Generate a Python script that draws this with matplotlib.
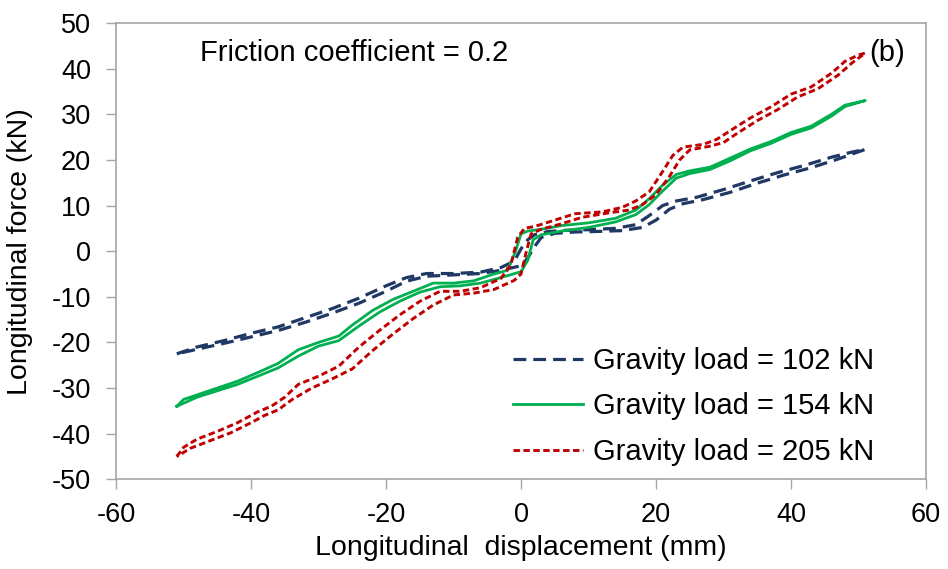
import matplotlib
matplotlib.use('Agg')
import matplotlib.pyplot as plt
import numpy as np

# gravity load 102 kN - two branches of the loop
blue_x_up = [-51, -48, -44, -40, -36, -32, -28, -24, -20, -17, -14, -10, -6, -3, -1, 0, 1, 2, 4, 7, 10, 14, 17, 19, 21, 23, 26, 30, 34, 38, 42, 46, 49, 51]
blue_y_up = [-22.5, -21.0, -19.6, -18.0, -16.6, -14.6, -12.6, -10.3, -7.6, -5.8, -4.9, -4.9, -4.6, -3.6, -2.2, 0.5, 2.5, 3.6, 4.3, 4.6, 4.7, 5.0, 5.8, 7.8, 10.0, 11.0, 11.8, 13.5, 15.4, 17.2, 18.8, 20.6, 21.7, 22.3]
blue_x_lo = [-51, -48, -44, -40, -36, -32, -28, -24, -20, -17, -14, -10, -6, -3, 0, 1, 2, 3, 5, 8, 11, 15, 18, 20, 22, 24, 27, 31, 35, 39, 43, 47, 51]
blue_y_lo = [-22.5, -21.5, -20.2, -18.8, -17.4, -15.6, -13.6, -11.4, -8.8, -6.6, -5.5, -5.2, -4.9, -4.2, -3.2, -1.5, 1.0, 3.0, 3.9, 4.2, 4.3, 4.5, 5.2, 6.8, 9.2, 10.4, 11.3, 12.9, 14.9, 16.7, 18.3, 20.2, 22.3]

# gravity load 154 kN
green_x_up = [-51, -50, -48, -45, -42, -39, -36, -33, -30, -27, -25, -22, -19, -16, -13, -10, -7, -4, -2, -0.8, 0, 1, 3, 6, 10, 14, 17, 19, 21, 23, 25, 28, 31, 34, 37, 40, 43, 46, 48, 51]
green_y_up = [-34, -32.5, -31.5, -30.0, -28.5, -26.6, -24.6, -21.6, -20.0, -18.6, -16.2, -13.0, -10.6, -8.8, -7.0, -7.0, -6.5, -5.0, -4.2, 0, 3.8, 4.4, 4.8, 5.6, 6.2, 7.2, 9.0, 11.5, 14.5, 16.8, 17.6, 18.4, 20.4, 22.4, 24.0, 26.0, 27.4, 30.0, 32.0, 33.0]
green_x_lo = [-51, -48, -45, -42, -39, -36, -33, -30, -27, -24, -21, -18, -15, -12, -9, -6, -3, 0, 1, 1.8, 3, 6, 10, 14, 17, 19, 21, 23, 25, 28, 31, 34, 37, 40, 43, 46, 48, 51]
green_y_lo = [-34, -32.0, -30.6, -29.2, -27.4, -25.6, -23.0, -20.8, -19.6, -16.4, -13.4, -11.0, -9.0, -7.8, -7.6, -7.0, -5.8, -4.5, -2.0, 2.5, 3.6, 4.4, 5.2, 6.4, 8.0, 10.2, 13.2, 16.0, 17.0, 17.9, 19.8, 22.0, 23.6, 25.6, 27.0, 29.6, 31.7, 33.0]

# gravity load 205 kN
red_x_up = [-51, -50, -48, -45, -42, -39, -37, -35, -33, -30, -27, -24, -21, -18, -15, -12, -9, -6, -3, -1.5, -0.5, 0.5, 2, 5, 8, 12, 15, 17, 19, 21, 22.5, 24, 27, 29, 31, 34, 37, 40, 43, 46, 48, 50, 51]
red_y_up = [-45, -43, -41.2, -39.5, -37.6, -35.2, -34.0, -32.0, -29.2, -27.4, -25.2, -21.0, -17.4, -14.0, -11.0, -8.8, -8.8, -8.0, -6.0, -3.0, 3.0, 5.0, 5.4, 6.8, 8.2, 8.6, 9.6, 11.0, 13.0, 17.5, 21.0, 22.8, 23.4, 24.5, 26.4, 29.2, 31.6, 34.4, 36.0, 39.0, 41.6, 43.0, 43.4]
red_x_lo = [-51, -49, -46, -43, -40, -38, -36, -34, -31, -28, -25, -22, -19, -16, -13, -10, -7, -4, -1, 0, 0.8, 1.5, 3, 6, 9, 13, 16, 18, 20, 22, 23.5, 25, 28, 30, 32, 35, 38, 41, 44, 47, 49, 51]
red_y_lo = [-45, -43.2, -41.5, -39.8, -37.6, -36.0, -34.8, -32.6, -30.0, -28.0, -25.8, -21.8, -18.2, -14.8, -11.8, -9.6, -9.2, -8.4, -6.4, -5.0, 0.0, 3.8, 4.8, 6.0, 7.4, 8.4, 9.0, 10.2, 12.4, 16.4, 20.0, 22.2, 23.0, 23.8, 25.8, 28.6, 31.0, 33.8, 35.6, 38.6, 41.2, 43.4]

labels = ['Gravity load = 102 kN', 'Gravity load = 154 kN', 'Gravity load = 205 kN']


def loop(x_up, y_up, x_lo, y_lo):
    # go out along one branch and come back along the other
    return x_up + x_lo[::-1], y_up + y_lo[::-1]


plt.rcParams['font.family'] = ['Liberation Sans', 'DejaVu Sans']
plt.rcParams['axes.unicode_minus'] = False
axis_grey = '#a6a6a6'

fig = plt.figure(figsize=(9.48, 5.69), dpi=100)
ax = fig.add_axes([0.1224, 0.1576, 0.8544, 0.802])

bx, by = loop(blue_x_up, blue_y_up, blue_x_lo, blue_y_lo)
gx, gy = loop(green_x_up, green_y_up, green_x_lo, green_y_lo)
rx, ry = loop(red_x_up, red_y_up, red_x_lo, red_y_lo)

ax.plot(bx, by, color='#1f3864', linewidth=2.3, linestyle=(0, (4.0, 2.2)), label=labels[0])
ax.plot(gx, gy, color='#00b050', linewidth=2.0, linestyle='-', label=labels[1])
ax.plot(rx, ry, color='#c00000', linewidth=2.1, linestyle=(0, (2.2, 1.2)), label=labels[2])

ax.set_xlim(-60, 60)
ax.set_ylim(-50, 50)
ax.set_xticks(np.arange(-60, 61, 20))
ax.set_yticks(np.arange(-50, 51, 10))
ax.tick_params(axis='both', direction='out', length=7, width=1, color=axis_grey,
               labelsize=19.5)
ax.tick_params(axis='x', pad=9)
ax.tick_params(axis='y', pad=11)
for s in ax.spines.values():
    s.set_color(axis_grey)
    s.set_linewidth(1.2)

ax.set_xlabel('Longitudinal  displacement (mm)', fontsize=20.5)
ax.set_ylabel('Longitudinal force (kN)', fontsize=20.5)
ax.xaxis.set_label_coords(0.5, -0.122)
ax.yaxis.set_label_coords(-0.1025, 0.5)

ax.text(0.104, 0.935, 'Friction coefficient = 0.2', transform=ax.transAxes, fontsize=21,
        va='center', ha='left')
ax.text(0.93, 0.935, '(b)', transform=ax.transAxes, fontsize=21, va='center', ha='left')

leg = ax.legend(loc='lower right', bbox_to_anchor=(0.96, -0.012), frameon=False, fontsize=21,
                handlelength=2.4, handletextpad=0.35, labelspacing=0.6, borderaxespad=0.25)

fig.savefig('out.png', dpi=100)
